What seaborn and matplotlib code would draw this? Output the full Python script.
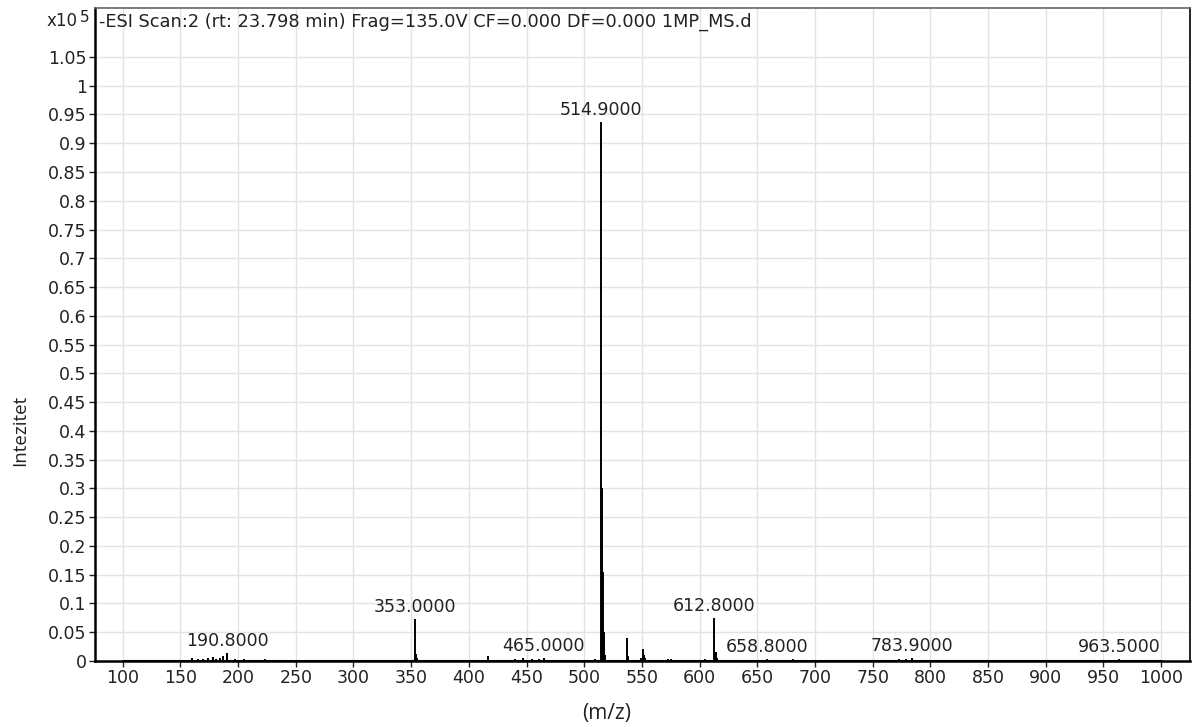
import matplotlib
matplotlib.use("Agg")
import matplotlib.pyplot as plt
import seaborn as sns
import pandas as pd
from matplotlib.ticker import FixedLocator, FuncFormatter

# --- Spectrum data (intensity in units of 1e5 counts) ---
mz = [
    105, 118, 130, 137, 146, 152, 160, 165, 170, 174, 178, 181, 184, 187, 190.8,
    197, 205, 212, 223, 231, 246, 262, 275, 292, 310, 322, 336, 345,
    353.0, 354.0, 355.0, 368, 381, 395, 405, 417, 431, 440, 447, 455, 461, 465.0,
    474, 488, 500, 509, 514.9, 515.4, 515.9, 516.9, 518.0, 527, 536.9, 537.9,
    549.5, 550.9, 552.0, 553.0, 562, 573, 575, 585, 597, 605, 612.8, 613.8,
    614.8, 625, 637, 648, 658.8, 668, 681, 697, 712, 726, 740, 755, 764, 773,
    779, 783.9, 792, 806, 822, 840, 861, 878, 895, 912, 928, 940, 952, 963.5,
    972, 985, 996,
]
intensity = [
    0.001, 0.001, 0.002, 0.002, 0.001, 0.002, 0.006, 0.003, 0.004, 0.005, 0.007, 0.004, 0.006, 0.009, 0.014,
    0.003, 0.004, 0.002, 0.003, 0.002, 0.002, 0.002, 0.002, 0.001, 0.002, 0.001, 0.002, 0.002,
    0.073, 0.012, 0.005, 0.001, 0.002, 0.002, 0.002, 0.009, 0.002, 0.003, 0.005, 0.003, 0.004, 0.005,
    0.002, 0.002, 0.002, 0.003, 0.937, 0.300, 0.155, 0.050, 0.010, 0.002, 0.040, 0.008,
    0.006, 0.021, 0.010, 0.006, 0.002, 0.003, 0.003, 0.002, 0.002, 0.003, 0.075, 0.015,
    0.006, 0.002, 0.002, 0.002, 0.003, 0.002, 0.003, 0.002, 0.001, 0.002, 0.001, 0.002, 0.002, 0.004,
    0.003, 0.006, 0.002, 0.002, 0.001, 0.002, 0.001, 0.002, 0.001, 0.002, 0.002, 0.002, 0.002, 0.004,
    0.002, 0.002, 0.002,
]

# labelled peaks
label_mz = [190.8, 353.0, 465.0, 514.9, 612.8, 658.8, 783.9, 963.5]
label_text = ["190.8000", "353.0000", "465.0000", "514.9000",
              "612.8000", "658.8000", "783.9000", "963.5000"]

x_ticks = list(range(100, 1001, 50))
y_ticks = [i * 0.05 for i in range(22)]  # 0 .. 1.05

scan_range = [100, 1000]
title = "-ESI Scan:2 (rt: 23.798 min) Frag=135.0V CF=0.000 DF=0.000 1MP_MS.d"

df = pd.DataFrame({"mz": mz, "intensity": intensity})

sns.set_theme(style="whitegrid")
plt.rcParams["font.family"] = ["DejaVu Sans"]

fig = plt.figure(figsize=(11.93, 7.27), dpi=100)
ax = fig.add_axes([95 / 1193, 1 - 661 / 727, 1095 / 1193, 653 / 727])
ax.set_facecolor("white")

# baseline of the scan and the stick peaks
sns.lineplot(x=scan_range, y=[0, 0], color="black", linewidth=2.2, ax=ax)
ax.vlines(df["mz"], 0, df["intensity"], color="black", linewidth=1.4)

lookup = dict(zip(mz, intensity))
for m, t in zip(label_mz, label_text):
    ax.annotate(t, (m, lookup[m]), xytext=(0, 2), textcoords="offset points",
                ha="center", va="bottom", fontsize=12.5, color="#222222")

ax.set_xlim(76, 1025)
ax.set_ylim(0, 1.135)
ax.xaxis.set_major_locator(FixedLocator(x_ticks))
ax.yaxis.set_major_locator(FixedLocator(y_ticks))
ax.yaxis.set_major_formatter(FuncFormatter(lambda v, p: f"{round(v, 2):g}"))
ax.tick_params(axis="both", labelsize=12.5, colors="#222222", length=4,
               width=1, direction="out", left=True, bottom=True, pad=2)
ax.grid(True, color="#e3e3e3", linewidth=1)
for s in ax.spines.values():
    s.set_color("black")
    s.set_linewidth(1.2)
ax.spines["top"].set_color("#666666")
ax.spines["left"].set_linewidth(1.8)
ax.spines["bottom"].set_linewidth(1.8)

ax.text(0.004, 0.993, title, transform=ax.transAxes, ha="left", va="top",
        fontsize=12.8, color="#222222")

ax.set_xlabel("")
ax.set_ylabel("")
fig.text(78 / 1193, 1 - 21 / 727, "x10", ha="right", va="center", fontsize=12, color="#222222")
fig.text(85 / 1193, 1 - 17 / 727, "5", ha="center", va="center", fontsize=11, color="#222222")
fig.text(20 / 1193, 1 - 430 / 727, "Intezitet", rotation=90, ha="center", va="center",
         fontsize=13.5, color="#222222", family=["Open Sans", "DejaVu Sans"])
fig.text(607 / 1193, 1 - 714 / 727, "(m/z)", ha="center", va="center",
         fontsize=15, color="#222222", family=["Open Sans", "DejaVu Sans"])

fig.savefig("out.png", dpi=100)
